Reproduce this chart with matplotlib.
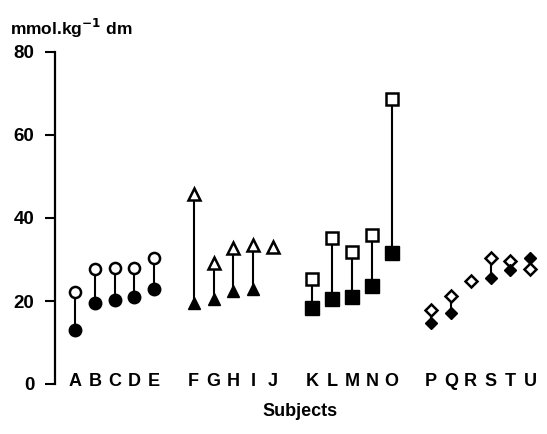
import matplotlib
matplotlib.use("Agg")
import matplotlib.pyplot as plt

# subjects and group layout (gaps between groups)
subjects = list("ABCDEFGHIJKLMNOPQRSTU")
positions = [0, 1, 2, 3, 4, 6, 7, 8, 9, 10, 12, 13, 14, 15, 16, 18, 19, 20, 21, 22, 23]

# open (upper) and filled (lower) values, mmol.kg-1 dm; None = not shown
open_vals = [22.2, 27.6, 27.9, 28.0, 30.3,
             45.7, 29.1, 32.7, 33.5, 33.1,
             25.2, 35.1, 31.7, 35.9, 68.6,
             17.8, 21.2, 24.8, 30.3, 29.7, 27.7]
filled_vals = [13.0, 19.4, 20.2, 20.9, 22.8,
               19.6, 20.6, 22.5, 23.0, None,
               18.4, 20.5, 20.9, 23.5, 31.5,
               14.8, 17.2, None, 25.5, 27.5, 30.3]

group_markers = ['o'] * 5 + ['^'] * 5 + ['s'] * 5 + ['D'] * 6
open_sizes = {'o': 8, '^': 9, 's': 9, 'D': 6}
filled_sizes = {'o': 9, '^': 9, 's': 10, 'D': 6.5}

plt.rcParams['font.family'] = ['Liberation Sans', 'DejaVu Sans']
plt.rcParams['font.weight'] = 'bold'

fig = plt.figure(figsize=(5.47, 4.34), dpi=100)
ax = fig.add_axes([55.2 / 547, 50 / 434, 488.8 / 547, 332 / 434])

for x, o, f, m in zip(positions, open_vals, filled_vals, group_markers):
    if f is not None:
        ax.plot([x, x], [f, o], color='black', lw=1.5, zorder=1, clip_on=False)
        ax.plot(x, f, marker=m, ms=filled_sizes[m], color='black',
                mec='black', ls='none', zorder=3, clip_on=False)
    ax.plot(x, o, marker=m, ms=open_sizes[m], mfc='white', mec='black',
            mew=1.8, ls='none', zorder=2, clip_on=False)

ax.set_xlim(-1, 23.7)
ax.set_ylim(0, 80)
ax.set_yticks([0, 20, 40, 60, 80])
ax.tick_params(axis='y', length=7, width=1.5, labelsize=13.5, pad=8)
ax.set_xticks([])
for side in ['top', 'right', 'bottom']:
    ax.spines[side].set_visible(False)
ax.spines['left'].set_linewidth(1.6)

for x, s in zip(positions, subjects):
    ax.text(x, 0.5, s, ha='center', va='center', fontsize=13, fontweight='bold')

fig.text(300 / 547, 1 - 412 / 434, 'Subjects', ha='center', va='center',
         fontsize=13, fontweight='bold')
fig.text(10 / 547, 1 - 28 / 434, r'mmol.kg$^{\mathbf{-1}}$ dm', ha='left', va='center',
         fontsize=12.5, fontweight='bold')

fig.savefig('out.png', dpi=100)
